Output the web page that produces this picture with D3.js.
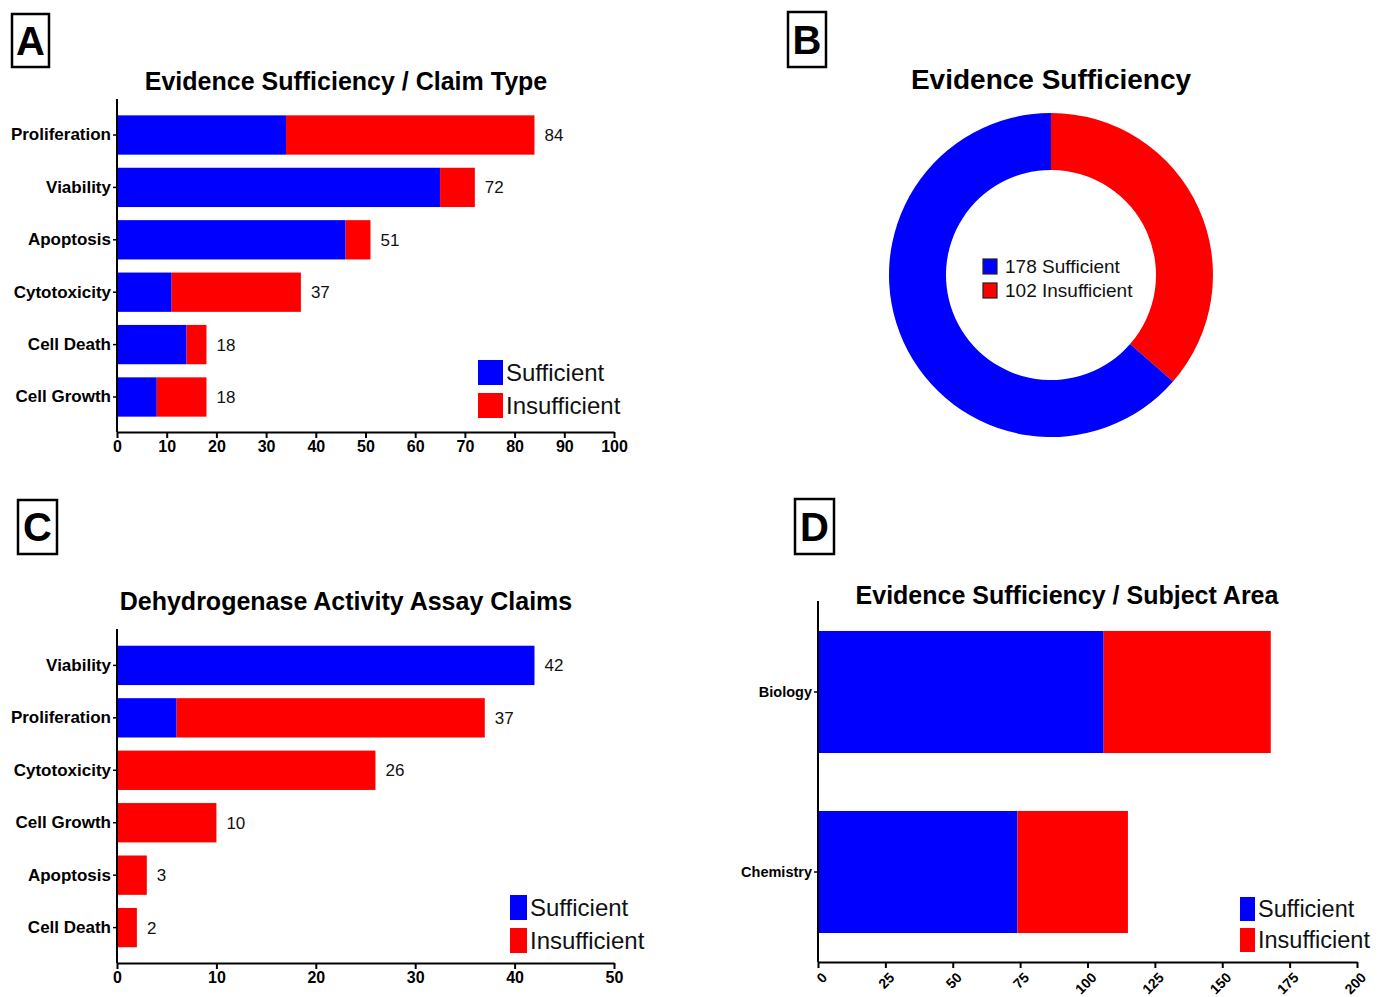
<!DOCTYPE html>
<html>
<head>
<meta charset="utf-8">
<script src="https://cdn.jsdelivr.net/npm/d3@7"></script>
<style>
  html, body { margin: 0; padding: 0; background: #fff; }
  svg { display: block; font-family: "Liberation Sans", Arial, sans-serif; }
</style>
</head>
<body>
<svg id="fig" width="1388" height="997"></svg>
<script>
// ---- data ----
const claimTypes = ["Proliferation", "Viability", "Apoptosis", "Cytotoxicity", "Cell Death", "Cell Growth"];
const claimSufficient = [34, 65, 46, 11, 14, 8];
const claimInsufficient = [50, 7, 5, 26, 4, 10];
const claimTicks = [0, 10, 20, 30, 40, 50, 60, 70, 80, 90, 100];

const overallLabels = ["Sufficient", "Insufficient"];
const overallCounts = [178, 102];

const assayTypes = ["Viability", "Proliferation", "Cytotoxicity", "Cell Growth", "Apoptosis", "Cell Death"];
const assaySufficient = [42, 6, 0, 0, 0, 0];
const assayInsufficient = [0, 31, 26, 10, 3, 2];
const assayTicks = [0, 10, 20, 30, 40, 50];

const subjectAreas = ["Biology", "Chemistry"];
const subjectSufficient = [106, 74];
const subjectInsufficient = [62, 41];
const subjectTicks = [0, 25, 50, 75, 100, 125, 150, 175, 200];

const seriesNames = ["Sufficient", "Insufficient"];
const seriesColors = ["#0000ff", "#ff0000"];

const svg = d3.select("#fig");

// boxed panel letter
function panelLetter(letter, x, y, w, h) {
  const g = svg.append("g");
  g.append("rect").attr("x", x).attr("y", y).attr("width", w).attr("height", h)
    .attr("fill", "none").attr("stroke", "#000").attr("stroke-width", 2.5);
  g.append("text").attr("x", x + w / 2).attr("y", y + h / 2 + 14)
    .attr("text-anchor", "middle").attr("font-size", 40).attr("font-weight", "bold")
    .text(letter);
}

function title(text, x, y, size) {
  svg.append("text").attr("x", x).attr("y", y).attr("text-anchor", "middle")
    .attr("font-size", size).attr("font-weight", "bold").text(text);
}

// stacked horizontal bar chart
function stackedBars(opt) {
  const data = opt.categories.map((c, i) => ({
    cat: c, Sufficient: opt.sufficient[i], Insufficient: opt.insufficient[i]
  }));
  const x = d3.scaleLinear().domain([0, opt.max]).range([opt.x0, opt.x1]);
  const y = d3.scaleBand().domain(opt.categories).range([opt.y0, opt.y1])
    .paddingInner(opt.padIn).paddingOuter(opt.padOut);
  const stacked = d3.stack().keys(seriesNames)(data);
  const g = svg.append("g");

  stacked.forEach((layer, li) => {
    g.append("g").attr("fill", seriesColors[li])
      .selectAll("rect").data(layer).join("rect")
      .attr("x", d => x(d[0]))
      .attr("y", d => y(d.data.cat))
      .attr("width", d => Math.max(0, x(d[1]) - x(d[0])))
      .attr("height", y.bandwidth());
  });

  if (opt.totals) {
    g.append("g").selectAll("text").data(data).join("text")
      .attr("x", d => x(d.Sufficient + d.Insufficient) + 10)
      .attr("y", d => y(d.cat) + y.bandwidth() / 2)
      .attr("dy", "0.35em")
      .attr("font-size", 17)
      .attr("fill", "#111")
      .text(d => d.Sufficient + d.Insufficient);
  }

  // y axis
  const ya = g.append("g").attr("transform", `translate(${opt.x0},0)`)
    .call(d3.axisLeft(y).tickSize(4).tickPadding(2).tickSizeOuter(0));
  ya.select(".domain").attr("stroke-width", 2).attr("d", `M0,${opt.axisTop}V${opt.y1}`);
  ya.selectAll(".tick line").attr("stroke-width", 1.5);
  ya.selectAll(".tick text").attr("font-size", opt.catSize).attr("font-weight", "bold")
    .attr("fill", "#000").attr("font-family", "Liberation Sans, Arial, sans-serif");

  // x axis
  const xa = g.append("g").attr("transform", `translate(0,${opt.y1})`)
    .call(d3.axisBottom(x).tickValues(opt.ticks).tickSize(6).tickSizeOuter(0).tickPadding(3));
  xa.select(".domain").attr("stroke-width", 2);
  xa.selectAll(".tick line").attr("stroke-width", 2);
  const tt = xa.selectAll(".tick text").attr("font-size", opt.tickSize).attr("font-weight", "bold")
    .attr("fill", "#000").attr("font-family", "Liberation Sans, Arial, sans-serif");
  if (opt.rotate) {
    tt.attr("text-anchor", "end").attr("x", 0).attr("y", 0).attr("dy", "0.35em")
      .attr("transform", "translate(6,13) rotate(-45)");
  }

  // legend
  const lg = g.append("g");
  seriesNames.forEach((name, i) => {
    const ly = opt.legY + i * opt.legGap;
    lg.append("rect").attr("x", opt.legX).attr("y", ly)
      .attr("width", opt.legW).attr("height", opt.legH).attr("fill", seriesColors[i]);
    lg.append("text").attr("x", opt.legX + opt.legW + 3).attr("y", ly + opt.legH / 2)
      .attr("dy", "0.36em").attr("font-size", opt.legSize).attr("fill", "#111").text(name);
  });
}

// ---- Panel A ----
panelLetter("A", 12, 14, 37, 53);
title("Evidence Sufficiency / Claim Type", 346, 90, 25);
stackedBars({
  categories: claimTypes, sufficient: claimSufficient, insufficient: claimInsufficient,
  max: 100, ticks: claimTicks, x0: 117, x1: 614, y0: 100, y1: 432, axisTop: 99,
  padIn: 0.25, padOut: 0.293, totals: true, catSize: 17, tickSize: 16,
  legX: 478, legY: 360, legW: 25, legH: 25, legGap: 33, legSize: 24
});

// ---- Panel B ----
panelLetter("B", 788, 12, 38, 55);
title("Evidence Sufficiency", 1051, 89, 28);
(function () {
  const cx = 1051, cy = 275, rOuter = 162, rInner = 105;
  // insufficient slice runs clockwise from 12 o'clock, sufficient fills the rest
  const order = [1, 0];
  const pie = d3.pie().sort(null).value(i => overallCounts[i]);
  const arc = d3.arc().innerRadius(rInner).outerRadius(rOuter);
  const g = svg.append("g").attr("transform", `translate(${cx},${cy})`);
  g.selectAll("path").data(pie(order)).join("path")
    .attr("d", arc).attr("fill", d => seriesColors[d.data]);
  overallLabels.forEach((name, i) => {
    const ly = -16 + i * 24;
    g.append("rect").attr("x", -68).attr("y", ly).attr("width", 14).attr("height", 15)
      .attr("fill", seriesColors[i]).attr("stroke", "#222").attr("stroke-width", 1.2);
    g.append("text").attr("x", -46).attr("y", ly + 7.5).attr("dy", "0.36em")
      .attr("font-size", 19).attr("fill", "#111").text(`${overallCounts[i]} ${name}`);
  });
})();

// ---- Panel C ----
panelLetter("C", 18, 500, 39, 54);
title("Dehydrogenase Activity Assay Claims", 346, 610, 25);
stackedBars({
  categories: assayTypes, sufficient: assaySufficient, insufficient: assayInsufficient,
  max: 50, ticks: assayTicks, x0: 117, x1: 614, y0: 630, y1: 963, axisTop: 629,
  padIn: 0.25, padOut: 0.3, totals: true, catSize: 17, tickSize: 16,
  legX: 510, legY: 895, legW: 17, legH: 25, legGap: 33, legSize: 24
});

// ---- Panel D ----
panelLetter("D", 795, 499, 39, 55);
title("Evidence Sufficiency / Subject Area", 1067, 604, 25);
stackedBars({
  categories: subjectAreas, sufficient: subjectSufficient, insufficient: subjectInsufficient,
  max: 200, ticks: subjectTicks, x0: 818, x1: 1357, y0: 602, y1: 962, axisTop: 601,
  padIn: 0.322, padOut: 0.161, totals: false, catSize: 14.5, tickSize: 14, rotate: true,
  legX: 1240, legY: 897, legW: 15, legH: 24, legGap: 31, legSize: 23.5
});
</script>
</body>
</html>
